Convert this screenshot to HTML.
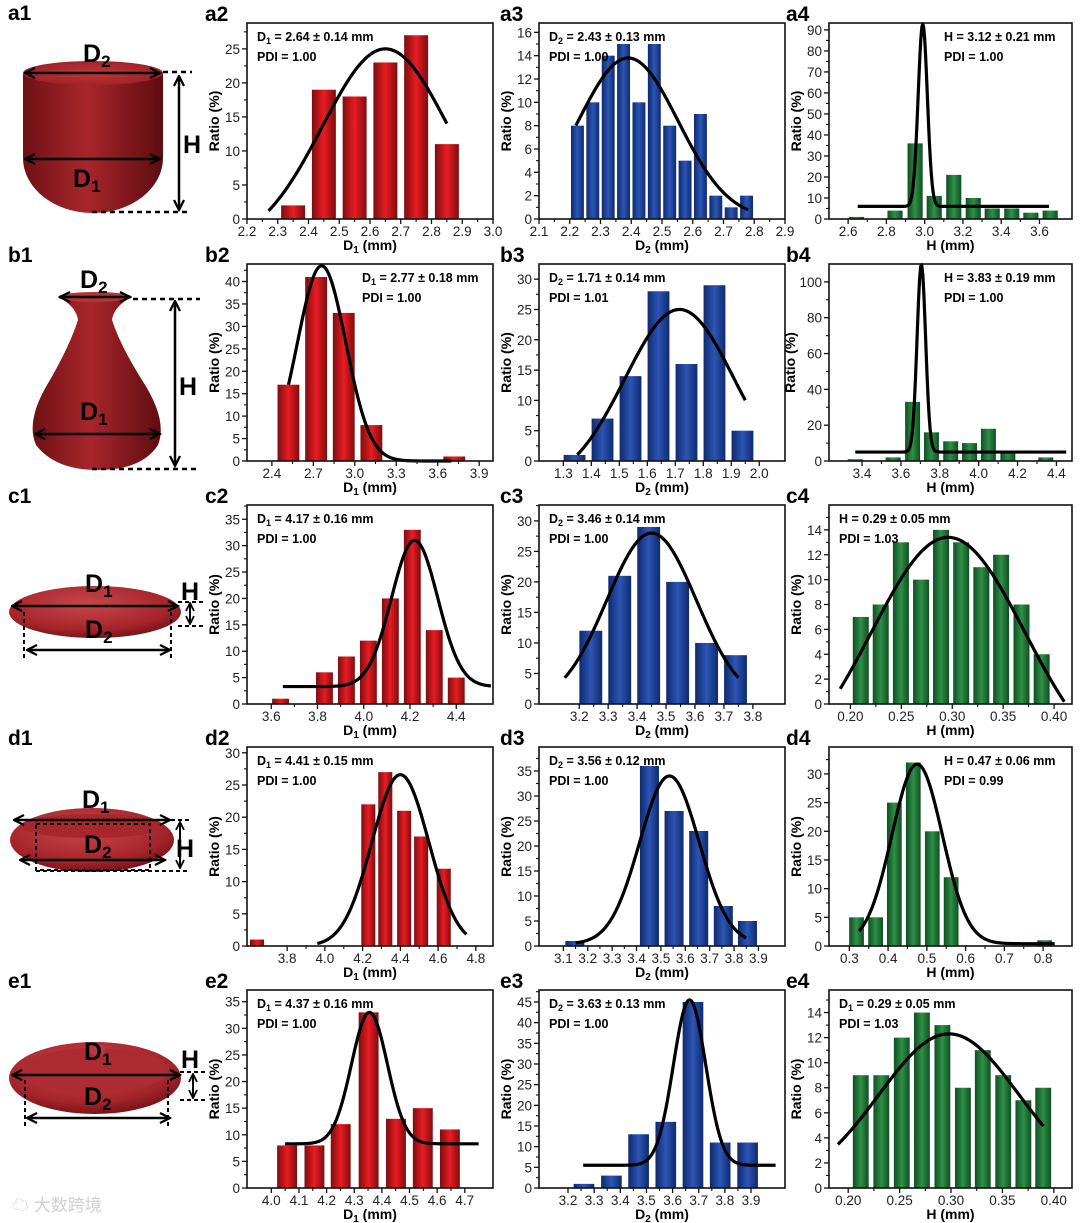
<!DOCTYPE html>
<html><head><meta charset="utf-8">
<style>
html,body{margin:0;padding:0;background:#fff;}
svg{display:block;font-family:"Liberation Sans","Noto Sans CJK SC",sans-serif;}
</style></head>
<body>
<svg id="fig" width="1080" height="1223" viewBox="0 0 1080 1223" xmlns="http://www.w3.org/2000/svg">
<defs>
<linearGradient id="gRed" x1="0" x2="1" y1="0" y2="0"><stop offset="0" stop-color="#7e0d10"/><stop offset="0.5" stop-color="#e81c22"/><stop offset="1" stop-color="#7e0d10"/></linearGradient>
<linearGradient id="gBlue" x1="0" x2="1" y1="0" y2="0"><stop offset="0" stop-color="#0e2a6e"/><stop offset="0.5" stop-color="#2d55b5"/><stop offset="1" stop-color="#0e2a6e"/></linearGradient>
<linearGradient id="gGreen" x1="0" x2="1" y1="0" y2="0"><stop offset="0" stop-color="#0f4f22"/><stop offset="0.5" stop-color="#2f8f47"/><stop offset="1" stop-color="#0f4f22"/></linearGradient>
<linearGradient id="sBody" x1="0" x2="1" y1="0" y2="0"><stop offset="0" stop-color="#6e1014"/><stop offset="0.45" stop-color="#a8262b"/><stop offset="1" stop-color="#5e0c10"/></linearGradient>
<radialGradient id="sTop" cx="0.5" cy="0.5" r="0.6"><stop offset="0" stop-color="#c0373b"/><stop offset="1" stop-color="#9a1f24"/></radialGradient>
<radialGradient id="sDisk" cx="0.45" cy="0.35" r="0.7"><stop offset="0" stop-color="#c9474b"/><stop offset="0.7" stop-color="#a5242a"/><stop offset="1" stop-color="#6c0f13"/></radialGradient>
<marker id="arr" viewBox="0 0 10 10" refX="9" refY="5" markerWidth="5" markerHeight="5" orient="auto-start-reverse"><path d="M1,1 L9,5 L1,9" fill="none" stroke="#000" stroke-width="1.8"/></marker>
</defs>

<g>
  <path d="M23,73 L23,158 A70,55 0 0 0 163,158 L163,73 Z" fill="url(#sBody)"/>
  <ellipse cx="93" cy="73" rx="70" ry="12" fill="url(#sTop)"/>
  <line x1="25" y1="73" x2="160" y2="73" stroke="#000" stroke-width="2.5" marker-start="url(#arr)" marker-end="url(#arr)"/>
  <line x1="25" y1="159" x2="160" y2="159" stroke="#000" stroke-width="2.5" marker-start="url(#arr)" marker-end="url(#arr)"/>
  <line x1="179" y1="76" x2="179" y2="210" stroke="#000" stroke-width="2.5" marker-start="url(#arr)" marker-end="url(#arr)"/>
  <line x1="163" y1="72" x2="192" y2="72" stroke="#000" stroke-width="2.5" stroke-dasharray="5,4"/>
  <line x1="92" y1="212" x2="190" y2="212" stroke="#000" stroke-width="2.5" stroke-dasharray="5,4"/>
</g>
<g>
  <path d="M58,297 Q76,306 78,320 Q70,345 50,380 Q25,420 36,445 Q55,470 98,470 Q142,470 158,445 Q168,420 142,380 Q120,345 112,320 Q114,306 132,297 Z" fill="url(#sBody)"/>
  <ellipse cx="95" cy="297" rx="37" ry="5" fill="#b83338"/>
  <line x1="60" y1="297" x2="130" y2="297" stroke="#000" stroke-width="2.5" marker-start="url(#arr)" marker-end="url(#arr)"/>
  <line x1="35" y1="434" x2="160" y2="434" stroke="#000" stroke-width="2.5" marker-start="url(#arr)" marker-end="url(#arr)"/>
  <line x1="175" y1="301" x2="175" y2="466" stroke="#000" stroke-width="2.5" marker-start="url(#arr)" marker-end="url(#arr)"/>
  <line x1="133" y1="299" x2="200" y2="299" stroke="#000" stroke-width="2.5" stroke-dasharray="5,4"/>
  <line x1="92" y1="469" x2="200" y2="469" stroke="#000" stroke-width="2.5" stroke-dasharray="5,4"/>
</g>
<g>
  <ellipse cx="95" cy="612" rx="86" ry="26" fill="url(#sDisk)"/>
  <ellipse cx="97" cy="592" rx="10" ry="6" fill="#b93a3e"/>
  <line x1="12" y1="606" x2="178" y2="606" stroke="#000" stroke-width="2.5" marker-start="url(#arr)" marker-end="url(#arr)"/>
  <line x1="27" y1="650" x2="170" y2="650" stroke="#000" stroke-width="2.5" marker-start="url(#arr)" marker-end="url(#arr)"/>
  <line x1="24" y1="612" x2="24" y2="660" stroke="#000" stroke-width="2" stroke-dasharray="4,3"/>
  <line x1="171" y1="612" x2="171" y2="660" stroke="#000" stroke-width="2" stroke-dasharray="4,3"/>
  <line x1="190" y1="603" x2="190" y2="624" stroke="#000" stroke-width="2" marker-start="url(#arr)" marker-end="url(#arr)"/>
  <line x1="178" y1="602" x2="205" y2="602" stroke="#000" stroke-width="2" stroke-dasharray="4,3"/>
  <line x1="178" y1="626" x2="205" y2="626" stroke="#000" stroke-width="2" stroke-dasharray="4,3"/>
</g>
<g>
  <ellipse cx="92" cy="840" rx="82" ry="32" fill="url(#sDisk)"/>
  <ellipse cx="92" cy="826" rx="72" ry="12" fill="#a7272c"/>
  <line x1="14" y1="820" x2="170" y2="820" stroke="#000" stroke-width="2.5" marker-start="url(#arr)" marker-end="url(#arr)"/>
  <line x1="20" y1="860" x2="165" y2="860" stroke="#000" stroke-width="2.5" marker-start="url(#arr)" marker-end="url(#arr)"/>
  <rect x="36" y="824" width="114" height="46" fill="none" stroke="#000" stroke-width="2" stroke-dasharray="4,3"/>
  <line x1="180" y1="822" x2="180" y2="868" stroke="#000" stroke-width="2" marker-start="url(#arr)" marker-end="url(#arr)"/>
  <line x1="150" y1="820" x2="190" y2="820" stroke="#000" stroke-width="2" stroke-dasharray="4,3"/>
  <line x1="36" y1="871" x2="190" y2="871" stroke="#000" stroke-width="2" stroke-dasharray="4,3"/>
</g>
<g>
  <ellipse cx="95" cy="1078" rx="86" ry="36" fill="url(#sDisk)"/>
  <ellipse cx="95" cy="1070" rx="74" ry="22" fill="#ad2c31"/>
  <ellipse cx="97" cy="1050" rx="8" ry="6" fill="#b93a3e"/>
  <line x1="12" y1="1075" x2="180" y2="1075" stroke="#000" stroke-width="2.5" marker-start="url(#arr)" marker-end="url(#arr)"/>
  <line x1="27" y1="1118" x2="170" y2="1118" stroke="#000" stroke-width="2.5" marker-start="url(#arr)" marker-end="url(#arr)"/>
  <line x1="25" y1="1080" x2="25" y2="1128" stroke="#000" stroke-width="2" stroke-dasharray="4,3"/>
  <line x1="168" y1="1080" x2="168" y2="1128" stroke="#000" stroke-width="2" stroke-dasharray="4,3"/>
  <line x1="193" y1="1074" x2="193" y2="1098" stroke="#000" stroke-width="2" marker-start="url(#arr)" marker-end="url(#arr)"/>
  <line x1="180" y1="1072" x2="205" y2="1072" stroke="#000" stroke-width="2" stroke-dasharray="4,3"/>
  <line x1="180" y1="1100" x2="205" y2="1100" stroke="#000" stroke-width="2" stroke-dasharray="4,3"/>
</g>
<g font-size="25" font-weight="bold" fill="#000">
  <text x="83" y="62">D<tspan font-size="17" dy="5">2</tspan></text>
  <text x="73" y="187">D<tspan font-size="17" dy="5">1</tspan></text>
  <text x="183" y="153">H</text>
  <text x="80" y="288">D<tspan font-size="17" dy="5">2</tspan></text>
  <text x="80" y="420">D<tspan font-size="17" dy="5">1</tspan></text>
  <text x="179" y="395">H</text>
  <text x="85" y="592">D<tspan font-size="17" dy="5">1</tspan></text>
  <text x="85" y="638">D<tspan font-size="17" dy="5">2</tspan></text>
  <text x="181" y="600">H</text>
  <text x="82" y="808">D<tspan font-size="17" dy="5">1</tspan></text>
  <text x="84" y="853">D<tspan font-size="17" dy="5">2</tspan></text>
  <text x="176" y="857">H</text>
  <text x="84" y="1060">D<tspan font-size="17" dy="5">1</tspan></text>
  <text x="84" y="1105">D<tspan font-size="17" dy="5">2</tspan></text>
  <text x="181" y="1068">H</text>
</g>
<text x="12" y="1211" font-size="17" fill="#d0d0d0">☁ 大数跨境</text>
<g id="charts"></g>
</svg>

<script>
const a2_centers=[2.35,2.45,2.55,2.65,2.75,2.85];
const a2_values=[2,19,18,23,27,11];
const a2_xticks=["2.2","2.3","2.4","2.5","2.6","2.7","2.8","2.9","3.0"];
const a2_yticks=["0","5","10","15","20","25"];
const a2_fit=[-4,29,2.65,0.205,2.27,2.85];

const a3_centers=[2.225,2.275,2.325,2.375,2.425,2.475,2.525,2.575,2.625,2.675,2.725,2.775];
const a3_values=[8,10,14,15,10,15,8,5,9,2,1,2];
const a3_xticks=["2.1","2.2","2.3","2.4","2.5","2.6","2.7","2.8","2.9"];
const a3_yticks=["0","2","4","6","8","10","12","14","16"];
const a3_fit=[0,13.8,2.39,0.163,2.22,2.78];

const a4_centers=[2.644,2.845,2.95,3.05,3.152,3.254,3.353,3.455,3.555,3.656];
const a4_values=[1,4,36,11,21,10,5,5,3,4];
const a4_xticks=["2.6","2.8","3.0","3.2","3.4","3.6"];
const a4_yticks=["0","10","20","30","40","50","60","70","80","90"];
const a4_fit=[6,87,2.99,0.024,2.65,3.65];

const b2_centers=[2.52,2.72,2.92,3.12,3.72];
const b2_values=[17,41,33,8,1];
const b2_xticks=["2.4","2.7","3.0","3.3","3.6","3.9"];
const b2_yticks=["0","5","10","15","20","25","30","35","40"];
const b2_fit=[0,43.5,2.76,0.175,2.52,3.7];

const b3_centers=[1.34,1.44,1.54,1.64,1.74,1.84,1.94];
const b3_values=[1,7,14,28,16,29,5];
const b3_xticks=["1.3","1.4","1.5","1.6","1.7","1.8","1.9","2.0"];
const b3_yticks=["0","5","10","15","20","25","30"];
const b3_fit=[-4,29,1.715,0.195,1.35,1.95];

const b4_centers=[3.365,3.56,3.66,3.757,3.856,3.953,4.05,4.15,4.345];
const b4_values=[1,2,33,16,11,10,18,5,2];
const b4_xticks=["3.4","3.6","3.8","4.0","4.2","4.4"];
const b4_yticks=["0","20","40","60","80","100"];
const b4_fit=[5,105,3.705,0.022,3.365,4.45];

const c2_centers=[3.64,3.83,3.925,4.02,4.115,4.21,4.305,4.40];
const c2_values=[1,6,9,12,20,33,14,5];
const c2_xticks=["3.6","3.8","4.0","4.2","4.4"];
const c2_yticks=["0","5","10","15","20","25","30","35"];
const c2_fit=[3.3,27.7,4.22,0.1,3.65,4.55];

const c3_centers=[3.24,3.34,3.44,3.54,3.64,3.74];
const c3_values=[12,21,29,20,10,8];
const c3_xticks=["3.2","3.3","3.4","3.5","3.6","3.7","3.8"];
const c3_yticks=["0","5","10","15","20","25","30"];
const c3_fit=[0,28,3.45,0.155,3.15,3.75];

const c4_centers=[0.2102,0.2298,0.2496,0.2694,0.289,0.3088,0.3286,0.348,0.368,0.3878];
const c4_values=[7,8,13,10,14,13,11,12,8,4];
const c4_xticks=["0.20","0.25","0.30","0.35","0.40"];
const c4_yticks=["0","2","4","6","8","10","12","14"];
const c4_fit=[-6,19.4,0.296,0.0754,0.19,0.41];

const d2_centers=[3.64,4.23,4.32,4.42,4.51,4.63];
const d2_values=[1,22,27,21,17,12];
const d2_xticks=["3.8","4.0","4.2","4.4","4.6","4.8"];
const d2_yticks=["0","5","10","15","20","25","30"];
const d2_fit=[0,26.6,4.40,0.151,3.96,4.75];

const d3_centers=[3.147,3.453,3.554,3.655,3.756,3.855];
const d3_values=[1,36,27,23,8,5];
const d3_xticks=["3.1","3.2","3.3","3.4","3.5","3.6","3.7","3.8","3.9"];
const d3_yticks=["0","5","10","15","20","25","30","35"];
const d3_fit=[0.4,33.6,3.535,0.122,3.15,3.85];

const d4_centers=[0.3186,0.3678,0.4161,0.465,0.514,0.5627,0.804];
const d4_values=[5,5,25,32,20,12,1];
const d4_xticks=["0.3","0.4","0.5","0.6","0.7","0.8"];
const d4_yticks=["0","5","10","15","20","25","30"];
const d4_fit=[0.4,31.3,0.475,0.065,0.325,0.83];

const e2_centers=[4.057,4.156,4.251,4.352,4.451,4.548,4.646];
const e2_values=[8,8,12,33,13,15,11];
const e2_xticks=["4.0","4.1","4.2","4.3","4.4","4.5","4.6","4.7"];
const e2_yticks=["0","5","10","15","20","25","30","35"];
const e2_fit=[8.3,24.7,4.355,0.065,4.05,4.75];

const e3_centers=[3.261,3.366,3.47,3.574,3.678,3.782,3.887];
const e3_values=[1,3,13,16,45,11,11];
const e3_xticks=["3.2","3.3","3.4","3.5","3.6","3.7","3.8","3.9"];
const e3_yticks=["0","5","10","15","20","25","30","35","40","45"];
const e3_fit=[5.5,40,3.665,0.062,3.258,3.994];

const e4_centers=[0.2122,0.2322,0.2521,0.2717,0.2916,0.3116,0.3309,0.3508,0.3704,0.3897];
const e4_values=[9,9,12,14,13,8,11,9,7,8];
const e4_xticks=["0.20","0.25","0.30","0.35","0.40"];
const e4_yticks=["0","2","4","6","8","10","12","14"];
const e4_fit=[0,12.3,0.298,0.068,0.19,0.39];

const NS="http://www.w3.org/2000/svg";
const root=document.getElementById('charts');
const cols={c2:[247,493],c3:[539,785],c4:[829,1072]};
const rows={a:[23,219],b:[264,461],c:[505,704],d:[747,946],e:[990,1188]};

function mk(tag,attrs,parent){const e=document.createElementNS(NS,tag);for(const k in attrs)e.setAttribute(k,attrs[k]);(parent||root).appendChild(e);return e;}

function subText(parent,x,y,main,sub,rest,size,anchor,weight){
  const t=mk('text',{x:x,y:y,'font-size':size,'font-weight':weight||'bold','text-anchor':anchor||'start',fill:'#000'},parent);
  const s1=mk('tspan',{},t);s1.textContent=main;
  if(sub){const s2=mk('tspan',{'font-size':Math.round(size*0.7),dy:3},t);s2.textContent=sub;
    const s3=mk('tspan',{dy:-3},t);s3.textContent=rest;}
  else{s1.textContent=main+rest;}
  return t;
}

function panel(id,col,row,xd,yMax,centers,values,xticks,yticks,fit,bw,grad,xlab,ann,annRight){
  const [l,r]=cols[col];const [t,b]=rows[row];
  const g=mk('g',{});
  
  
  const sx=x=>l+(x-xd[0])/(xd[1]-xd[0])*(r-l);
  const sy=v=>b-v/yMax*(b-t);
  centers.forEach((c,i)=>{
    const x0=sx(c-bw/2),x1=sx(c+bw/2);
    const rc=mk('rect',{x:x0,y:sy(values[i]),width:x1-x0,height:b-sy(values[i]),fill:'url(#'+grad+')'},g);
    
    
  });
  const [y0,A,mu,w,xs,xe]=fit;let d='';
  for(let k=0;k<=200;k++){const x=xs+(xe-xs)*k/200;let v=y0+A*Math.exp(-(x-mu)*(x-mu)/(2*w*w));v=Math.max(0,Math.min(v,yMax));d+=(k?'L':'M')+sx(x).toFixed(2)+','+sy(v).toFixed(2);}
  const p=mk('path',{d:d,fill:'none',stroke:'#000','stroke-width':3.2,'stroke-linejoin':'round'},g);
  
  
  const bx=mk('rect',{x:l,y:t,width:r-l,height:b-t,fill:'none',stroke:'#111','stroke-width':1.6},g);
  
  
  const xv=xticks.map(parseFloat);
  xv.forEach((v,i)=>{
    const X=sx(v);mk('line',{x1:X,y1:b,x2:X,y2:b+5,stroke:'#111','stroke-width':1.3},g);
    if(i<xv.length-1){const m=sx((v+xv[i+1])/2);mk('line',{x1:m,y1:b,x2:m,y2:b+3,stroke:'#111','stroke-width':1.1},g);}
    const tx=mk('text',{x:X,y:b+17,'font-size':13.5,'text-anchor':'middle',fill:'#222'},g);tx.textContent=xticks[i];
    
    
  });
  const yv=yticks.map(parseFloat);
  yv.forEach((v,i)=>{
    const Y=sy(v);mk('line',{x1:l,y1:Y,x2:l-5,y2:Y,stroke:'#111','stroke-width':1.3},g);
    const m=v+(yv[1]-yv[0])/2;if(m<yMax){mk('line',{x1:l,y1:sy(m),x2:l-3,y2:sy(m),stroke:'#111','stroke-width':1.1},g);}
    const ty=mk('text',{x:l-7,y:Y+5,'font-size':13.5,'text-anchor':'end',fill:'#222'},g);ty.textContent=yticks[i];
    
    
  });
  const yt=mk('text',{x:0,y:0,'font-size':14,'font-weight':'bold','text-anchor':'middle',transform:'translate('+(l-(yticks[yticks.length-1].length>2?34:28))+','+((t+b)/2)+') rotate(-90)'},g);
  yt.textContent='Ratio (%)';
  
  
  const xt=subText(g,(l+r)/2,b+31,xlab[0],xlab[1],' (mm)',14,'middle');
  
  
  const ax=annRight?l+115:l+10;
  const a1=subText(g,ax,t+18,ann[0],ann[1],ann[2],12.5,'start');
  
  
  const a2=subText(g,ax,t+38,'PDI = '+ann[3],'','',12.5,'start');
  
  
  const lx={c2:205,c3:500,c4:786}[col];
  const pl=mk('text',{x:lx,y:t-2,'font-size':21,'font-weight':'bold'},g);pl.textContent=id;
  
  
}

panel('a2','c2','a',[2.2,3.0],28.8,a2_centers,a2_values,a2_xticks,a2_yticks,a2_fit,0.078,'gRed',['D','1'],['D','1','  = 2.64 ± 0.14 mm','1.00'],false);
panel('a3','c3','a',[2.1,2.9],16.8,a3_centers,a3_values,a3_xticks,a3_yticks,a3_fit,0.042,'gBlue',['D','2'],['D','2',' = 2.43 ± 0.13 mm','1.00'],false);
panel('a4','c4','a',[2.5,3.77],93.3,a4_centers,a4_values,a4_xticks,a4_yticks,a4_fit,0.079,'gGreen',['H','',''],['H','',' = 3.12 ± 0.21 mm','1.00'],true);
panel('b2','c2','b',[2.22,4.0],43.9,b2_centers,b2_values,b2_xticks,b2_yticks,b2_fit,0.158,'gRed',['D','1'],['D','1',' = 2.77 ± 0.18 mm','1.00'],true);
panel('b3','c3','b',[1.213,2.092],32.5,b3_centers,b3_values,b3_xticks,b3_yticks,b3_fit,0.078,'gBlue',['D','2'],['D','2',' = 1.71 ± 0.14 mm','1.01'],false);
panel('b4','c4','b',[3.23,4.48],110,b4_centers,b4_values,b4_xticks,b4_yticks,b4_fit,0.077,'gGreen',['H','',''],['H','',' = 3.83 ± 0.19 mm','1.00'],true);
panel('c2','c2','c',[3.495,4.559],37.7,c2_centers,c2_values,c2_xticks,c2_yticks,c2_fit,0.073,'gRed',['D','1'],['D','1',' = 4.17 ± 0.16 mm','1.00'],false);
panel('c3','c3','c',[3.061,3.911],32.6,c3_centers,c3_values,c3_xticks,c3_yticks,c3_fit,0.079,'gBlue',['D','2'],['D','2','  = 3.46 ± 0.14 mm','1.00'],false);
panel('c4','c4','c',[0.179,0.4176],16.0,c4_centers,c4_values,c4_xticks,c4_yticks,c4_fit,0.0157,'gGreen',['H','',''],['H','',' = 0.29 ± 0.05 mm','1.03'],false);
panel('d2','c2','d',[3.587,4.891],30.9,d2_centers,d2_values,d2_xticks,d2_yticks,d2_fit,0.0745,'gRed',['D','1'],['D','1','  = 4.41 ± 0.15 mm','1.00'],false);
panel('d3','c3','d',[3.0,4.009],39.8,d3_centers,d3_values,d3_xticks,d3_yticks,d3_fit,0.078,'gBlue',['D','2'],['D','2','  = 3.56 ± 0.12 mm','1.00'],false);
panel('d4','c4','d',[0.2475,0.8746],34.7,d4_centers,d4_values,d4_xticks,d4_yticks,d4_fit,0.038,'gGreen',['H','',''],['H','',' = 0.47 ± 0.06 mm','0.99'],true);
panel('e2','c2','e',[3.912,4.802],37.2,e2_centers,e2_values,e2_xticks,e2_yticks,e2_fit,0.072,'gRed',['D','1'],['D','1','  = 4.37 ± 0.16 mm','1.00'],false);
panel('e3','c3','e',[3.089,4.03],47.9,e3_centers,e3_values,e3_xticks,e3_yticks,e3_fit,0.079,'gBlue',['D','2'],['D','2','  = 3.63 ± 0.13 mm','1.00'],false);
panel('e4','c4','e',[0.1813,0.4177],15.8,e4_centers,e4_values,e4_xticks,e4_yticks,e4_fit,0.0154,'gGreen',['H','',''],['D','1','  = 0.29 ± 0.05 mm','1.03'],false);

[['a1',22],['b1',264],['c1',505],['d1',747],['e1',990]].forEach(([lab,y])=>{
  const tt=mk('text',{x:8,y:y-2,'font-size':21,'font-weight':'bold'});tt.textContent=lab;
  
  
});
</script>
</body></html>
